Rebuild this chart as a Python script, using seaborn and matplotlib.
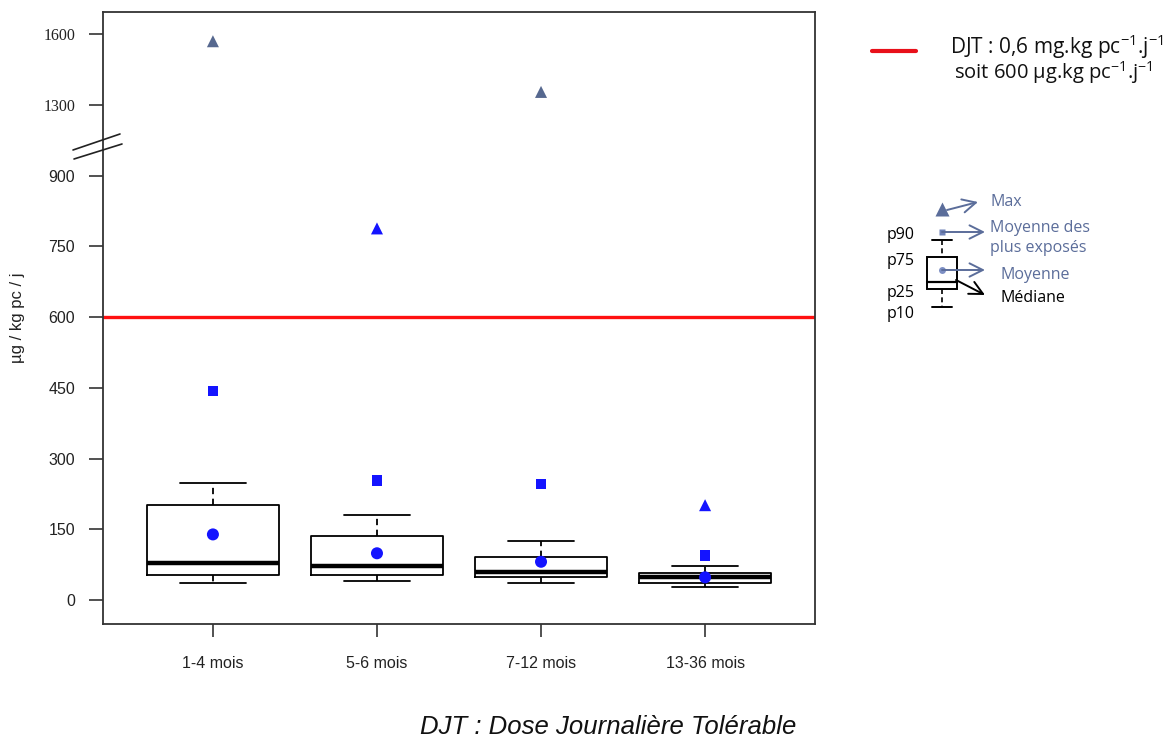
import numpy as np
import matplotlib
matplotlib.use("Agg")
import matplotlib.pyplot as plt
import seaborn as sns

# ---- data -------------------------------------------------------------
groups = ["1-4 mois", "5-6 mois", "7-12 mois", "13-36 mois"]
p10 = [35, 40, 35, 27]
p25 = [52, 52, 48, 35]
median = [78, 71, 59, 48]
p75 = [201, 136, 91, 58]
p90 = [249, 181, 125, 73]
mean = [139, 99, 81, 48]
mean_top = [443, 254, 246, 94]
max_val = [1570, 788, 1355, 201]
max_color = ["#56688f", "#1414ff", "#56688f", "#1414ff"]
djt = 600
ytick_vals = [0, 150, 300, 450, 600, 750, 900, 1300, 1600]

sns.set_theme(style="ticks")
plt.rcParams["font.family"] = ["Liberation Sans", "DejaVu Sans"]
plt.rcParams["mathtext.default"] = "regular"


# broken y axis: linear to 900, compressed gap 900-1300, half scale above 1300
def fwd(v):
    v = np.asarray(v, dtype=float)
    return np.where(v <= 900, v,
                    np.where(v <= 1300, 900 + (v - 900) * 0.375,
                             1050 + (v - 1300) * 0.5))


def inv(d):
    d = np.asarray(d, dtype=float)
    return np.where(d <= 900, d,
                    np.where(d <= 1050, 900 + (d - 900) / 0.375,
                             1300 + (d - 1050) * 2.0))


fig = plt.figure(figsize=(11.7, 7.4), dpi=100)
W, H = 1170, 740
ax = fig.add_axes([103 / W, 1 - 624 / H, (815 - 103) / W, (624 - 12) / H])
ax.set_yscale("function", functions=(fwd, inv))

pos = np.arange(len(groups))
stats = [dict(med=median[i], q1=p25[i], q3=p75[i], whislo=p10[i],
              whishi=p90[i], fliers=[]) for i in range(len(groups))]
ax.bxp(stats, positions=pos, widths=0.8, capwidths=0.4, showfliers=False,
       patch_artist=False,
       boxprops=dict(color="black", lw=1.3),
       whiskerprops=dict(color="black", lw=1.3, linestyle=(0, (3.5, 2.5))),
       capprops=dict(color="black", lw=1.3),
       medianprops=dict(color="black", lw=3.2))

ax.axhline(djt, color="#ff1010", lw=2.4, zorder=1)

sns.scatterplot(x=pos, y=mean, marker="o", s=75, color="#1414ff",
                edgecolor="none", ax=ax, zorder=5)
sns.scatterplot(x=pos, y=mean_top, marker="s", s=60, color="#1414ff",
                edgecolor="none", ax=ax, zorder=5)
sns.scatterplot(x=pos, y=max_val, marker="^", s=75, c=max_color,
                edgecolor="none", ax=ax, zorder=5)

ax.set_xlim(-0.67, 3.67)
ax.set_ylim(-51, 1694)
ax.set_xticks(pos)
ax.set_xticklabels(groups, fontsize=11.5, color="#222222")
ax.set_yticks(ytick_vals)
ax.set_yticklabels([str(v) for v in ytick_vals], fontsize=11.5, color="#222222")
for lab in ax.get_yticklabels():
    if lab.get_text() in ("1300", "1600"):
        lab.set_fontfamily(["Liberation Serif"])
ax.tick_params(axis="x", length=9, width=1.2, pad=14, color="#333333")
ax.tick_params(axis="y", length=10, width=1.2, pad=10, color="#333333")
for sp in ax.spines.values():
    sp.set_visible(True)
    sp.set_color("#333333")
    sp.set_linewidth(1.3)
ax.set_ylabel("µg / kg pc / j", fontsize=12, color="#222222")
ax.yaxis.set_label_coords(-0.109, 0.5)

# overlay in pixel coordinates for break marks, key and caption
ov = fig.add_axes([0, 0, 1, 1], zorder=10)
ov.set_xlim(0, W)
ov.set_ylim(H, 0)
ov.axis("off")

ov.plot([73, 120], [150, 134], color="#222222", lw=1.2)
ov.plot([74, 122], [159, 144], color="#222222", lw=1.2)

# DJT key
ov.plot([872, 916], [51, 51], color="#e8101a", lw=3)
key_font = ["Open Sans", "DejaVu Sans"]
ov.text(1057, 47, "DJT : 0,6 mg.kg pc$^{-1}$.j$^{-1}$", ha="center",
        va="center", fontsize=15, family=key_font, color="#111111")
ov.text(1053, 73, "soit 600 µg.kg pc$^{-1}$.j$^{-1}$", ha="center",
        va="center", fontsize=14.5, family=key_font, color="#111111")

# box legend diagram
slate = "#5b6d9a"
ov.plot([942], [209], marker="^", ms=10, color=slate, mec="none")
ov.plot([942], [232], marker="s", ms=5, color="#6f82b8", mec="none")
ov.plot([942], [270], marker="o", ms=5, color="#7d8fc4", mec="none")
arrow = dict(arrowstyle="->,head_length=0.8,head_width=0.4", color=slate,
             lw=1.4, shrinkA=0, shrinkB=0)
ov.annotate("", xy=(978, 202), xytext=(947, 210), arrowprops=arrow)
ov.annotate("", xy=(985, 232), xytext=(942, 232), arrowprops=arrow)
ov.annotate("", xy=(985, 270), xytext=(942, 270), arrowprops=arrow)
ov.annotate("", xy=(985, 295), xytext=(956, 280),
            arrowprops=dict(arrowstyle="->,head_length=0.8,head_width=0.4",
                            color="black", lw=1.4, shrinkA=0, shrinkB=0))
ov.add_patch(plt.Rectangle((927, 257), 30, 32, fill=False, ec="black", lw=1.4))
ov.plot([927, 957], [282, 282], color="black", lw=1.6)
ov.plot([942, 942], [240, 257], color="black", lw=1.2, ls=(0, (3, 2)))
ov.plot([942, 942], [289, 307], color="black", lw=1.2, ls=(0, (3, 2)))
ov.plot([932, 952], [240, 240], color="black", lw=1.4)
ov.plot([932, 952], [307, 307], color="black", lw=1.4)
for y, t in [(235, "p90"), (261, "p75"), (293, "p25"), (314, "p10")]:
    ov.text(887, y, t, ha="left", va="center", fontsize=11.5, family=key_font,
            color="black")
ov.text(990, 202, "Max", ha="left", va="center", fontsize=11.5,
        family=key_font, color=slate)
ov.text(990, 228, "Moyenne des", ha="left", va="center", fontsize=11.5,
        family=key_font, color=slate)
ov.text(990, 248, "plus exposés", ha="left", va="center", fontsize=11.5,
        family=key_font, color=slate)
ov.text(1000, 275, "Moyenne", ha="left", va="center", fontsize=11.5,
        family=key_font, color=slate)
ov.text(1000, 298, "Médiane", ha="left", va="center", fontsize=11.5,
        family=key_font, color="black")

ov.text(608, 727, "DJT : Dose Journalière Tolérable", ha="center",
        va="center", fontsize=18.5, style="italic", color="#111111")

fig.savefig("out.png", dpi=100)
